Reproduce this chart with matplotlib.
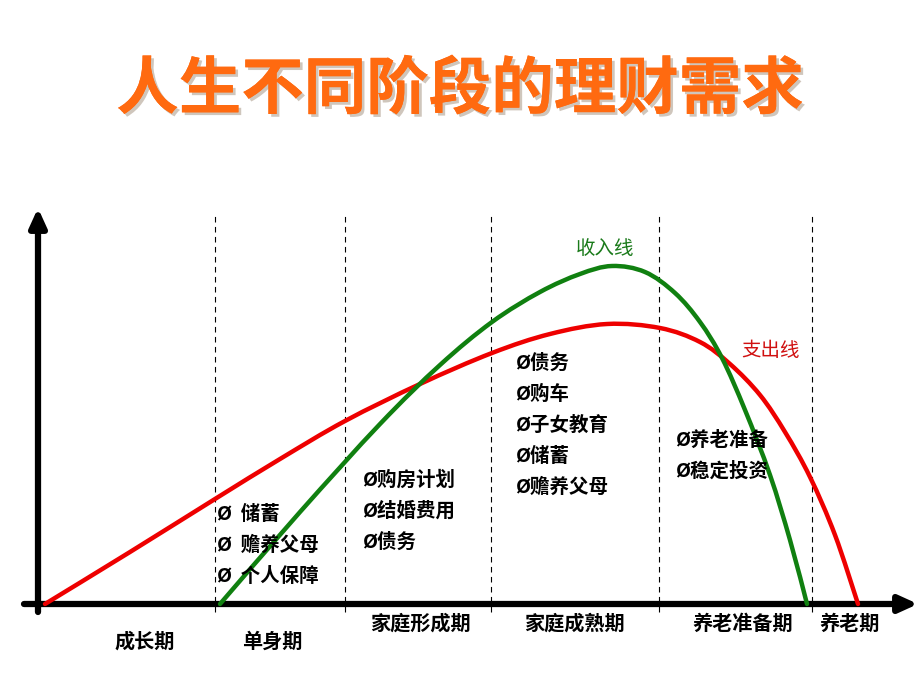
import matplotlib
matplotlib.use("Agg")
import matplotlib.pyplot as plt
import matplotlib.patheffects as pe
from matplotlib.path import Path
from matplotlib.patches import PathPatch
import numpy as np

plt.rcParams['font.family'] = ['Noto Sans CJK SC', 'DejaVu Sans']

# ---- data (x = life position, y = amount above the x-axis) ----
income_x = [182, 262, 342, 402, 454, 502, 542, 574, 607, 637, 662, 684, 707, 732, 752, 769]
income_y = [0, 92, 180, 239, 282, 312, 330, 338, 332, 311, 282, 246, 194, 129, 64, 0]

expense_x = [7, 92, 177, 242, 307, 382, 454, 512, 569, 622, 662, 692, 722, 747, 772, 797, 820]
expense_y = [0, 52, 105, 145, 183, 220, 251, 270, 280, 276, 262, 240, 209, 172, 127, 69, 0]

boundaries = [177, 307, 453, 621, 774]
stage_labels = ['成长期', '单身期', '家庭形成期', '家庭成熟期', '养老准备期', '养老期']
needs = [
    ['Ø  储蓄', 'Ø  赡养父母', 'Ø  个人保障'],
    ['Ø购房计划', 'Ø结婚费用', 'Ø债务'],
    ['Ø债务', 'Ø购车', 'Ø子女教育', 'Ø储蓄', 'Ø赡养父母'],
    ['Ø养老准备', 'Ø稳定投资'],
]
title = '人生不同阶段的理财需求'


def smooth_path(xs, ys):
    """Catmull-Rom through the read points, drawn as cubic Bezier segments."""
    pts = np.column_stack([xs, ys]).astype(float)
    verts = [pts[0]]
    codes = [Path.MOVETO]
    n = len(pts)
    for i in range(n - 1):
        p0 = pts[i - 1] if i > 0 else pts[i]
        p1 = pts[i]
        p2 = pts[i + 1]
        p3 = pts[i + 2] if i + 2 < n else pts[i + 1]
        c1 = p1 + (p2 - p0) / 6.0
        c2 = p2 - (p3 - p1) / 6.0
        verts += [c1, c2, p2]
        codes += [Path.CURVE4] * 3
    return Path(verts, codes)


# ---- figure ----
fig = plt.figure(figsize=(9.2, 6.9), dpi=100)
fig.patch.set_facecolor('white')
ax = fig.add_axes([38 / 920, 0.0, 1 - 38 / 920, 1.0])
ax.set_xlim(0, 882)
ax.set_ylim(-86, 604)
ax.axis('off')

# dashed stage boundaries
for b in boundaries:
    ax.plot([b, b], [-8, 392], color='black', lw=0.8, ls=(0, (5, 4)))

# axes arrows
ax.annotate('', xy=(880, 0), xytext=(-14, 0),
            arrowprops=dict(arrowstyle='-|>,head_length=1.1,head_width=0.5', lw=4.5, color='black',
                            shrinkA=0, shrinkB=0), annotation_clip=False)
ax.annotate('', xy=(0, 396), xytext=(0, -8),
            arrowprops=dict(arrowstyle='-|>,head_length=1.1,head_width=0.5', lw=4.5, color='black',
                            shrinkA=0, shrinkB=0), annotation_clip=False)

# curves
ax.add_patch(PathPatch(smooth_path(expense_x, expense_y), fill=False, edgecolor='#ee0000',
                       lw=3.2, zorder=3, capstyle='round'))
ax.add_patch(PathPatch(smooth_path(income_x, income_y), fill=False, edgecolor='#108010',
                       lw=3.2, zorder=4, capstyle='round'))

ax.text(567, 356, '收入线', color='#1a7a1a', fontsize=14, ha='center', va='center')
ax.text(733, 253, '支出线', color='#d01010', fontsize=14, ha='center', va='center')

# stage labels
label_pos = [(107, -37), (234, -37), (382, -19), (536, -19), (705, -19), (812, -19)]
for (lx, ly), t in zip(label_pos, stage_labels):
    ax.text(lx, ly, t, fontsize=14.5, ha='center', va='center', fontweight='bold', color='black')

# needs lists
starts = [(179, 90), (324, 124), (477, 241), (637, 164)]
for (sx, sy), items in zip(starts, needs):
    for i, t in enumerate(items):
        ax.text(sx, sy - i * 31, t, fontsize=14, ha='left', va='center', fontweight='bold',
                color='black', zorder=5)

# title
fig.text(0.5, 1 - 90 / 690, title, fontsize=45, fontweight='bold', color='#ff6a10',
         ha='center', va='center',
         path_effects=[pe.withSimplePatchShadow(offset=(2, -2), shadow_rgbFace='#b0a090', alpha=0.6),
                       pe.Normal()])

fig.savefig('out.png', dpi=100, facecolor='white')
